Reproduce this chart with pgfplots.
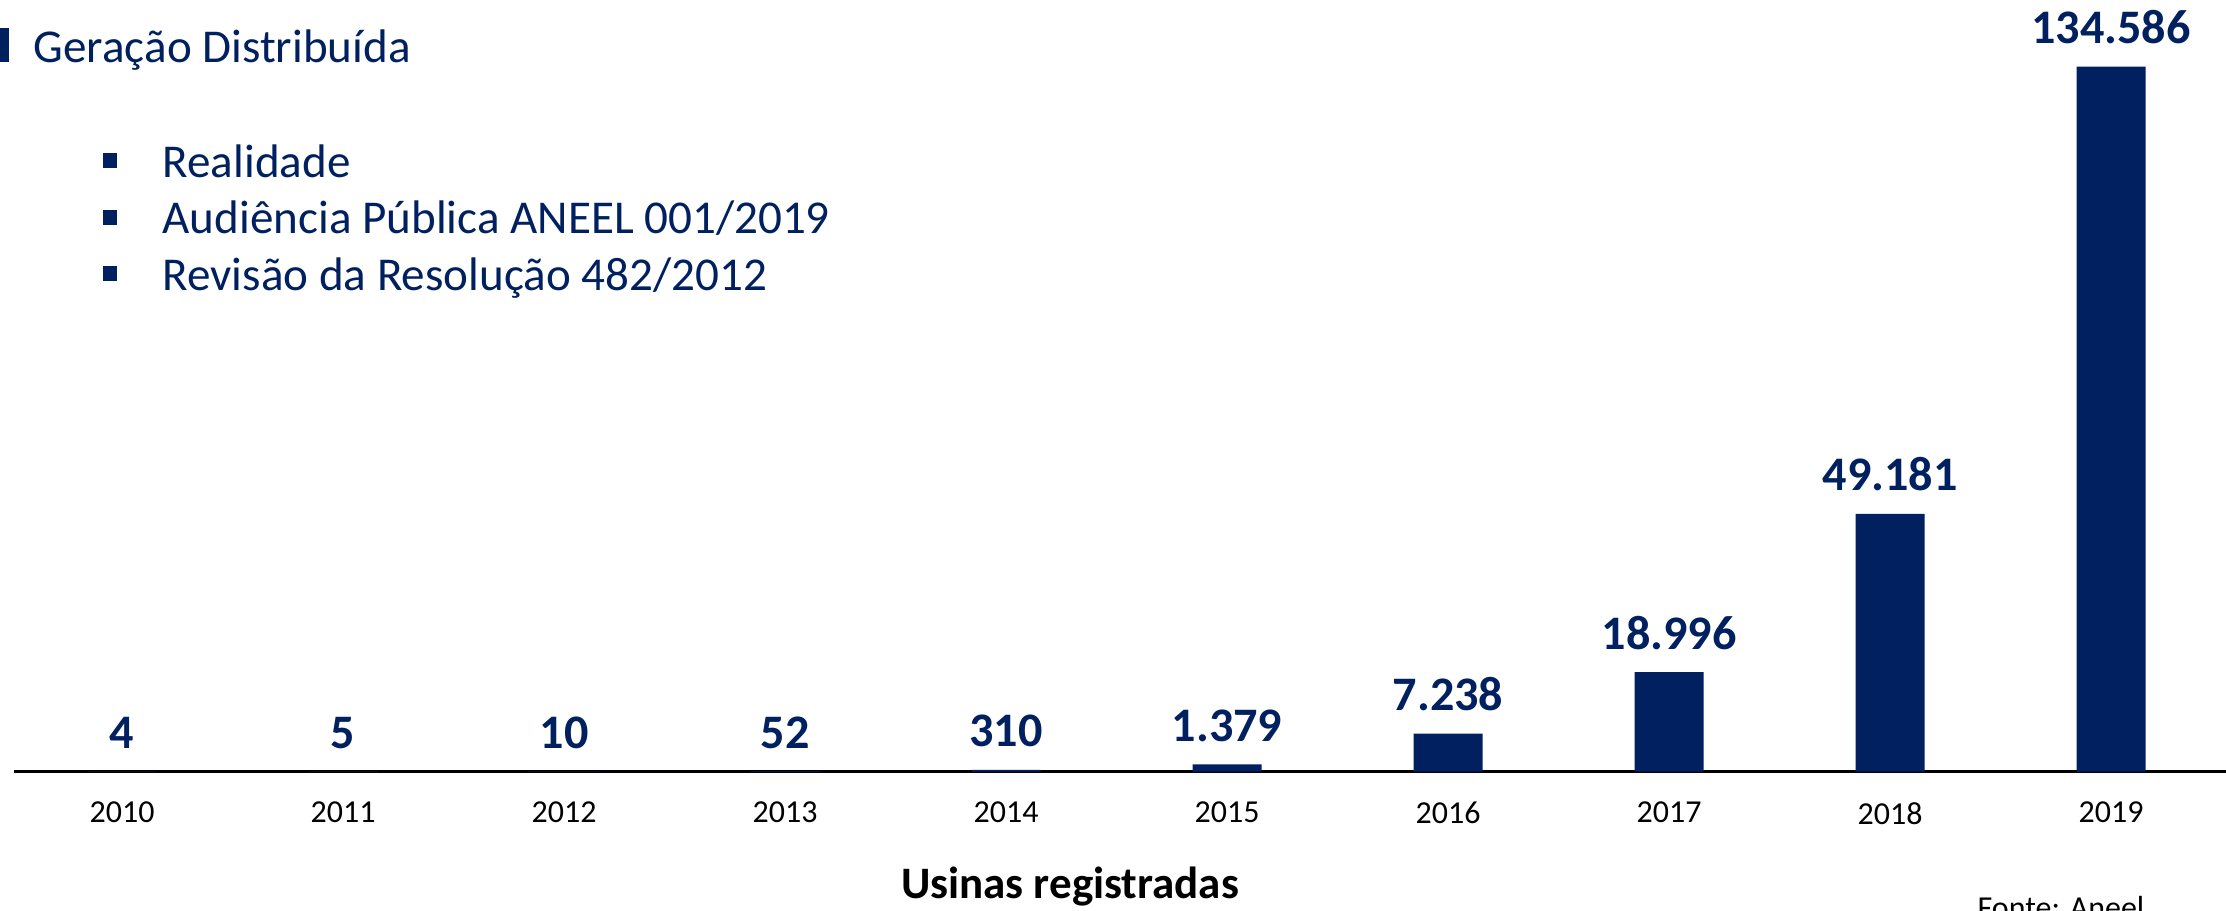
\documentclass[border=0pt]{standalone}
\usepackage{fontspec}
\setmainfont{Carlito}[Numbers=Lining]
\usepackage{pgfplots}
\pgfplotsset{compat=1.18}
\definecolor{navy}{RGB}{0,32,96}

\begin{document}
\begin{tikzpicture}[x=0.1mm,y=0.1mm]
\path[use as bounding box] (0,0) rectangle (2226,910);
\begin{axis}[
  at={(1.4mm,13.85mm)}, anchor=south west,
  scale only axis, width=221.2mm, height=77.15mm,
  xmin=2009.511, xmax=2019.52, ymin=0, ymax=147300,
  axis x line=bottom, axis y line=none,
  x axis line style={-, line width=0.6pt, black},
  xtick=data,
  xticklabels={2010,2011,2012,2013,2014,2015,2016,2017,2018,2019},
  major tick length=0pt,
  xticklabel style={font=\fontsize{9.1}{10}\selectfont, anchor=north, inner sep=0pt, yshift=-3mm, text=black},
  ytick=\empty,
  clip=false,
  nodes near coords, point meta=explicit symbolic,
  every node near coord/.append style={font=\fontsize{13.7}{15}\selectfont\bfseries, text=navy, anchor=base, inner sep=0pt, yshift=2.3mm},
]
\addplot[ybar, bar width=6.9mm, fill=navy, draw=none] coordinates {
  (2010,4) [4]
  (2011,5) [5]
  (2012,10) [10]
  (2013,52) [52]
  (2014,310) [310]
  (2015,1379) [1.379]
  (2016,7238) [7.238]
  (2017,18996) [18.996]
  (2018,49181) [49.181]
  (2019,134586) [134.586]
};
\end{axis}

% cabeçalho e tópicos
\fill[navy] (-10,848) rectangle (9,882);
\node[anchor=base west, inner sep=0pt, text=navy, font=\fontsize{13.4}{15}\selectfont] at (33,848) {Geração Distribuída};
\foreach \y/\t in {733/Realidade, 676.5/Audiência Pública ANEEL 001\slash 2019, 620/Revisão da Resolução 482\slash 2012} {
  \fill[navy] (103,\y+9) rectangle (117,\y+24);
  \node[anchor=base west, inner sep=0pt, text=navy, font=\fontsize{13.4}{15}\selectfont] at (162,\y) {\t};
}
\node[anchor=base, inner sep=0pt, font=\fontsize{12.8}{14}\selectfont\bfseries] at (1070,12) {Usinas registradas};
\node[anchor=base west, inner sep=0pt, font=\fontsize{9.1}{10}\selectfont] at (1977,-8) {Fonte: Aneel};
\end{tikzpicture}
\end{document}
